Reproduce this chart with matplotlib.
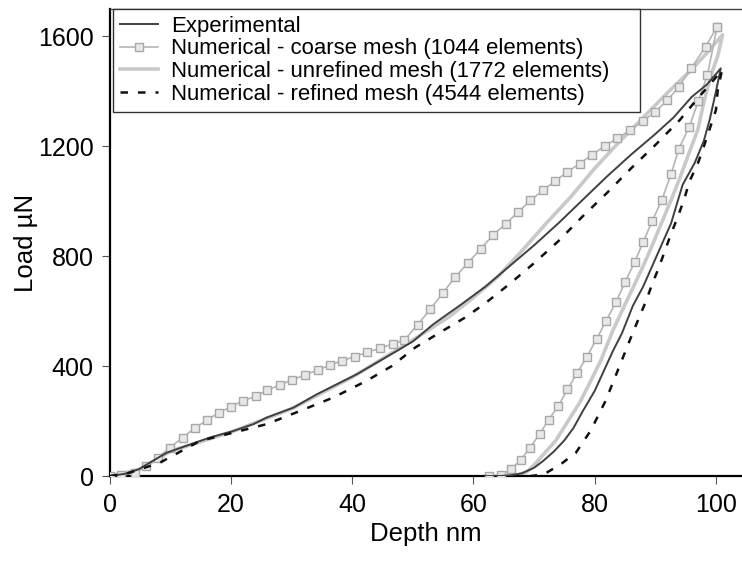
import matplotlib.pyplot as plt

plt.rcParams['font.family'] = ['Liberation Sans', 'DejaVu Sans']

# experimental load-depth curve (loading then unloading)
exp_load_x = [0, 2.5, 4.7, 9.4, 16.5, 20.4, 23.7, 25.9, 30.3, 34.2, 40.8, 47.4, 50, 53.4, 58, 62, 66, 70,
              74, 78, 82, 86, 90, 93, 96, 98.5, 100.8]
exp_load_y = [0, 8, 24, 85, 140, 164, 189, 213, 249, 298, 371, 456, 490, 553, 625, 690, 765, 840,
              920, 1005, 1090, 1170, 1245, 1305, 1380, 1425, 1484]
exp_unload_x = [100.8, 100, 99, 98, 96.5, 94.5, 92.6, 90.6, 88, 86.3, 84.5, 83, 80, 78, 76.5, 75,
                73.3, 71.5, 70, 68, 66, 64, 62]
exp_unload_y = [1484, 1400, 1300, 1220, 1140, 1060, 920, 820, 690, 620, 520, 455, 310, 235, 175, 130,
                90, 55, 30, 10, 2, 0, 0]

# coarse mesh (1044 elements)
coarse_load_x = [0, 1.9, 4.1, 6, 7.9, 9.9, 12, 14, 16, 18, 20, 22, 24.1, 26, 28.1, 30.1, 32.2, 34.3,
                 36.4, 38.3, 40.5, 42.4, 44.6, 46.7, 48.6, 50.8, 52.9, 54.9, 57, 59.1, 61.2, 63.2,
                 65.3, 67.4, 69.4, 71.5, 73.4, 75.5, 77.5, 79.6, 81.7, 83.7, 85.8, 88, 90, 92,
                 93.9, 95.9, 98.3, 100.2]
coarse_load_y = [0, 2, 12, 36, 67, 103, 140, 174, 203, 231, 252, 274, 291, 313, 332, 350, 368, 386,
                 404, 420, 435, 450, 465, 481, 495, 551, 608, 665, 725, 776, 827, 876,
                 918, 961, 1004, 1040, 1073, 1107, 1137, 1170, 1202, 1229, 1259, 1293, 1326, 1369,
                 1417, 1484, 1563, 1636]
coarse_unload_x = [100.2, 98.6, 97.1, 95.6, 93.9, 92.6, 91.1, 89.5, 88, 86.6, 85, 83.5, 81.9, 80.3,
                   78.7, 77.1, 75.5, 74, 72.4, 70.9, 69.3, 67.8, 66.2, 64.5, 62.5]
coarse_unload_y = [1636, 1460, 1365, 1271, 1192, 1099, 1006, 929, 852, 779, 706, 632, 566, 498,
                   434, 375, 315, 255, 205, 152, 103, 59, 24, 3, 0]

# unrefined mesh (1772 elements)
unref_load_x = [0, 5, 10, 20, 30, 40, 50, 56, 60, 64, 68, 72, 76, 80, 84, 88, 92, 96, 98.5, 101.1]
unref_load_y = [0, 25, 90, 160, 245, 360, 495, 580, 650, 725, 820, 920, 1015, 1120, 1215, 1305,
                1395, 1480, 1540, 1606]
unref_unload_x = [101.1, 100.3, 99.2, 98.1, 97, 95.8, 94.3, 92.7, 91, 89.3, 87.7, 86.2, 84.9, 83,
                  81, 79.2, 77.6, 75.6, 73.6, 71.8, 70.2, 68.8, 67, 65]
unref_unload_y = [1606, 1530, 1460, 1370, 1260, 1190, 1100, 1010, 920, 830, 750, 680, 620, 530,
                  420, 340, 270, 200, 130, 85, 45, 15, 2, 0]

# refined mesh (4544 elements)
ref_load_x = [0, 3, 8.3, 14.9, 20.4, 25.9, 31.4, 36.9, 42.4, 46.5, 50.4, 54.5, 58.7, 62, 66, 70,
              74, 78, 82, 86, 90, 94, 97, 99, 101]
ref_load_y = [0, 10, 49, 128, 158, 189, 237, 286, 347, 400, 468, 523, 578, 630, 700, 775,
              855, 945, 1030, 1120, 1205, 1295, 1375, 1425, 1478]
ref_unload_x = [101, 100.3, 100, 98.9, 97.8, 97, 95.6, 94.8, 93.7, 92.6, 91.6, 90.6, 89.5, 88.5,
                86.2, 84, 81.8, 79.3, 76.9, 74.4, 71.6, 69.4]
ref_unload_y = [1478, 1405, 1332, 1259, 1186, 1137, 1071, 1010, 943, 882, 821, 760, 700, 639,
                517, 395, 274, 164, 85, 43, 6, 0]

fig = plt.figure(figsize=(7.42, 5.64), dpi=100)
ax = fig.add_axes([0.148, 0.156, 0.852, 0.828])

ax.plot(unref_load_x + unref_unload_x, unref_load_y + unref_unload_y, color='#c9c9c9', lw=2.6,
        label='Numerical - unrefined mesh (1772 elements)', zorder=2)
ax.plot(coarse_load_x + coarse_unload_x, coarse_load_y + coarse_unload_y, color='#b5b5b5', lw=1.2,
        marker='s', ms=5.5, mfc='#e8e8e8', mec='#a8a8a8', mew=1.0,
        label='Numerical - coarse mesh (1044 elements)', zorder=3)
ax.plot(exp_load_x + exp_unload_x, exp_load_y + exp_unload_y, color='#404040', lw=1.4,
        label='Experimental', zorder=4)
ax.plot(ref_load_x + ref_unload_x, ref_load_y + ref_unload_y, color='#111111', lw=1.8,
        dashes=(3, 4), label='Numerical - refined mesh (4544 elements)', zorder=5)

ax.set_xlim(0, 104.3)
ax.set_ylim(0, 1700)
ax.set_xticks([0, 20, 40, 60, 80, 100])
ax.set_yticks([0, 400, 800, 1200, 1600])
ax.tick_params(direction='out', length=5.5, width=0.8, labelsize=18, color='#555555')
ax.tick_params(axis='x', pad=7)
ax.tick_params(axis='y', pad=6)
ax.set_xlabel('Depth nm', fontsize=18.5, labelpad=3)
ax.set_ylabel('Load µN', fontsize=18.5, labelpad=0)

ax.spines['right'].set_visible(False)
ax.spines['left'].set_linewidth(1.6)
ax.spines['bottom'].set_linewidth(1.6)
ax.spines['top'].set_linewidth(1.0)
ax.spines['top'].set_color('#444444')

# legend box stretched to a fixed width inside the top-left corner
handles, labels = ax.get_legend_handles_labels()
order = [2, 1, 0, 3]
leg = ax.legend([handles[i] for i in order], [labels[i] for i in order],
                loc='upper left', bbox_to_anchor=(0.005, 0.775, 0.834, 0.225), mode='expand',
                fontsize=15.9, frameon=True, fancybox=False, edgecolor='#333333', framealpha=1,
                handlelength=1.75, handletextpad=0.6, labelspacing=0.08, borderpad=0.3,
                borderaxespad=0)
leg.get_frame().set_linewidth(1.0)

fig.savefig('out.png', dpi=100)
